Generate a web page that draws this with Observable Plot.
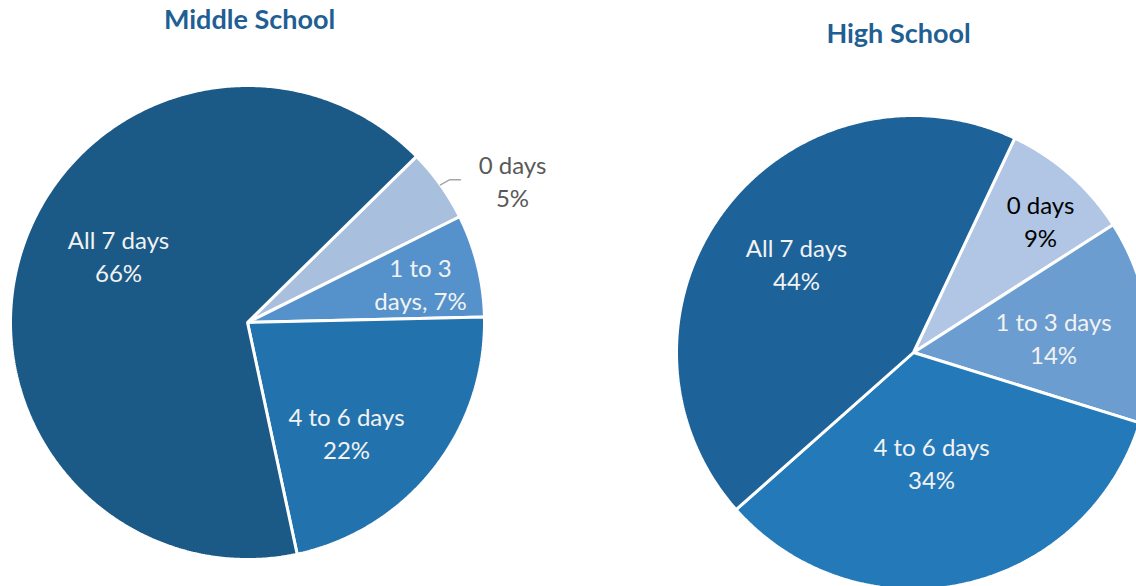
<!DOCTYPE html>
<html><head><meta charset="utf-8">
<script src="https://cdn.jsdelivr.net/npm/d3@7"></script>
<script src="https://cdn.jsdelivr.net/npm/@observablehq/plot@0.6"></script>
<style>html,body{margin:0;padding:0;background:#fff;overflow:hidden;}</style>
</head><body><div id="chart"></div>
<script>
// ---- data ----
const categories = ["0 days", "1 to 3 days", "4 to 6 days", "All 7 days"];
const middleValues = [5, 7, 22, 66];
const highValues = [9, 14, 34, 44];
const middleLabels = ["0 days\n5%", "1 to 3\ndays, 7%", "4 to 6 days\n22%", "All 7 days\n66%"];
const highLabels = ["0 days\n9%", "1 to 3 days\n14%", "4 to 6 days\n34%", "All 7 days\n44%"];
const titles = ["Middle School", "High School"];

// ---- layout & style ----
const W = 1136, H = 586;
const FONT = "Lato, 'Open Sans', sans-serif";
const pies = [
  {title: titles[0], values: middleValues, labels: middleLabels,
   cx: 247, cy: 322, r: 237, start: 45.5,
   colors: ["#a9bfde", "#5592cb", "#2272ae", "#1b5a87"],
   labelXY: [[512, 179], [420, 282], [346, 431], [118, 254]],
   labelColors: ["#595959", "#f2f2f2", "#f2f2f2", "#f2f2f2"],
   titleXY: [249, 20], leader: 0},
  {title: titles[1], values: highValues, labels: highLabels,
   cx: 913, cy: 352, r: 237, start: 25.3,
   colors: ["#b1c6e4", "#6b9dd0", "#2479b9", "#1d6399"],
   labelXY: [[1040, 219], [1053, 336], [931, 461], [796, 262]],
   labelColors: ["#000000", "#f2f2f2", "#f2f2f2", "#f2f2f2"],
   titleXY: [898, 34], leader: null}
];
const rad = d => d * Math.PI / 180;

const marks = [];
const labelRows = [];
const titleRows = [];
let leaderRows = [];
for (const p of pies) {
  const total = d3.sum(p.values);
  let a = p.start;
  p.values.forEach((v, i) => {
    const a0 = a, a1 = a + v / total * 360;
    a = a1;
    const pts = [{x: p.cx, y: p.cy}];
    const n = Math.max(2, Math.ceil((a1 - a0) / 0.5));
    for (let k = 0; k <= n; k++) {
      const t = rad(a0 + (a1 - a0) * k / n);
      pts.push({x: p.cx + p.r * Math.sin(t), y: p.cy - p.r * Math.cos(t)});
    }
    marks.push(Plot.line(pts, {x: "x", y: "y", fill: p.colors[i], stroke: "white",
      strokeWidth: 3, strokeLinejoin: "miter", curve: "linear-closed", clip: true}));
    labelRows.push({x: p.labelXY[i][0], y: p.labelXY[i][1], text: p.labels[i], color: p.labelColors[i], cat: categories[i]});
    if (p.leader === i) {
      const m = rad((a0 + a1) / 2);
      const sx = p.cx + p.r * Math.sin(m), sy = p.cy - p.r * Math.cos(m);
      leaderRows = [{x: sx, y: sy}, {x: sx + 9, y: sy - 5}, {x: sx + 20, y: sy - 5}];
    }
  });
  titleRows.push({x: p.titleXY[0], y: p.titleXY[1], text: p.title});
}
marks.push(Plot.line(leaderRows, {x: "x", y: "y", stroke: "#a6a6a6", strokeWidth: 1.5}));
marks.push(Plot.text(labelRows, {x: "x", y: "y", text: "text", fill: d => d.color,
  fontSize: 24, lineHeight: 1.38, textAnchor: "middle", fontFamily: FONT}));
marks.push(Plot.text(titleRows, {x: "x", y: "y", text: "text", fill: "#1f5f93",
  fontSize: 27, fontWeight: "bold", textAnchor: "middle", fontFamily: FONT}));

const chart = Plot.plot({
  width: W, height: H, margin: 0,
  x: {domain: [0, W], range: [0, W], axis: null},
  y: {domain: [0, H], range: [0, H], axis: null},
  style: {background: "white", overflow: "hidden", fontFamily: FONT},
  marks
});
document.getElementById("chart").appendChild(chart);
</script>
</body></html>
